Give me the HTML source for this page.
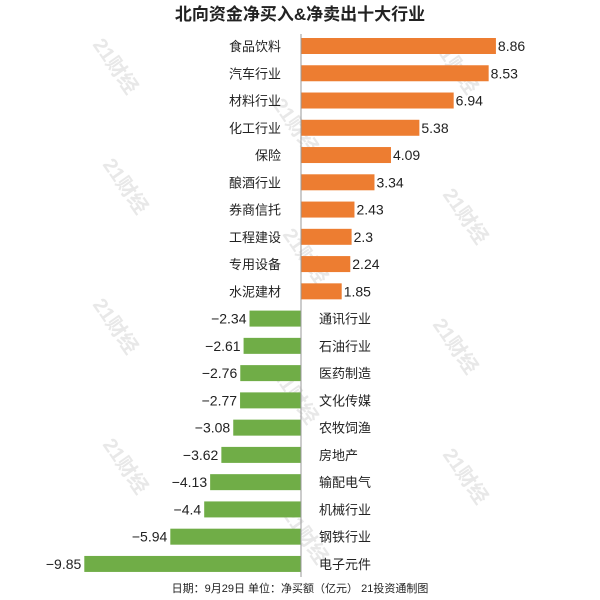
<!DOCTYPE html>
<html><head><meta charset="utf-8"><style>
body{margin:0;background:#fff;}
svg{display:block;font-family:"Liberation Sans","Noto Sans CJK SC",sans-serif;}
</style></head><body>
<svg id="chart" width="600" height="600">
<text x="300" y="20" text-anchor="middle" font-size="17" font-weight="bold" fill="#222">北向资金净买入&amp;净卖出十大行业</text>
<g id="wm"></g>
<g id="bars"></g>
<line x1="301" y1="34" x2="301" y2="577" stroke="#999" stroke-width="1"/>
<text x="300" y="592" text-anchor="middle" font-size="11" fill="#222">日期：9月29日 单位：净买额（亿元） 21投资通制图</text>
</svg>
<script>
const categories=["食品饮料","汽车行业","材料行业","化工行业","保险","酿酒行业","券商信托","工程建设","专用设备","水泥建材","通讯行业","石油行业","医药制造","文化传媒","农牧饲渔","房地产","输配电气","机械行业","钢铁行业","电子元件"];
const values=[8.86,8.53,6.94,5.38,4.09,3.34,2.43,2.3,2.24,1.85,-2.34,-2.61,-2.76,-2.77,-3.08,-3.62,-4.13,-4.4,-5.94,-9.85];
const labels=["8.86","8.53","6.94","5.38","4.09","3.34","2.43","2.3","2.24","1.85","−2.34","−2.61","−2.76","−2.77","−3.08","−3.62","−4.13","−4.4","−5.94","−9.85"];
const NS="http://www.w3.org/2000/svg";
const x0=301, k=22.0;
function xs(v){return x0+v*k;}
function yc(i){return 46+i*27.26;}
const g=document.getElementById('bars');
function mk(tag,attrs,txt){const e=document.createElementNS(NS,tag);for(const a in attrs)e.setAttribute(a,attrs[a]);if(txt!=null)e.textContent=txt;return e;}
values.forEach((v,i)=>{
  const y=yc(i),pos=v>=0;
  const r=mk('rect',{x:Math.min(xs(0),xs(v)),y:y-8,width:Math.abs(xs(v)-xs(0)),height:16,fill:pos?'#ED7D31':'#70AD47'});
  
  
  g.appendChild(r);
  const vt=mk('text',{x:pos?xs(v)+2:xs(v)-3,y:y+5,'font-size':14,fill:'#222','text-anchor':pos?'start':'end'},labels[i]);
  
  
  g.appendChild(vt);
  const ct=mk('text',{x:pos?281:319,y:y+5,'font-size':13,fill:'#222','text-anchor':pos?'end':'start'},categories[i]);
  
  
  g.appendChild(ct);
});
const wm=document.getElementById('wm');
[[110,70],[290,130],[450,70],[120,190],[300,260],[460,220],[110,330],[290,400],[450,350],[120,470],[300,540],[460,480]].forEach((p,i)=>{
  const t=mk('text',{x:p[0],y:p[1],'font-size':20,'font-weight':'bold',fill:'#e8e8e8','text-anchor':'middle',transform:`rotate(55 ${p[0]} ${p[1]})`},'21财经');
  
  
  wm.appendChild(t);
});
</script>
</body></html>
